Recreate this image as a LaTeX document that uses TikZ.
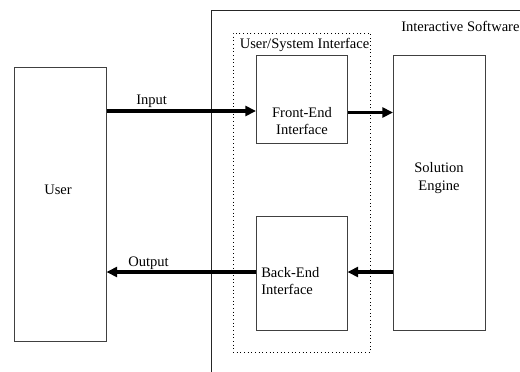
\documentclass[tikz,border=0pt]{standalone}
\usepackage{fontspec}
\setmainfont{Liberation Serif}
\usetikzlibrary{arrows.meta}
\begin{document}
\begin{tikzpicture}[x=0.75pt,y=-0.75pt,
  box/.style={draw=black!75,line width=0.75pt,inner sep=0pt,outer sep=0pt,anchor=north west},
  flow/.style={line width=2.3pt,-{Triangle[length=8pt,width=7.5pt]}},
  lbl/.style={font=\fontsize{10.9pt}{13pt}\selectfont,inner sep=0pt}]
\useasboundingbox (0,0) rectangle (520,371);
% Interactive Software boundary (clipped at right and bottom)
\draw[line width=0.7pt,black!85] (211,372) -- (211,10) -- (522,10);
\node[lbl,anchor=base west] (swl) at (401,31) {Interactive Software};
% dotted User/System Interface box
\node[box,draw=black,dotted,minimum width=137.5*0.75pt,minimum height=319*0.75pt] (usibox) at (233,33) {};
\node[lbl,anchor=base west] (usi) at (239.5,48.5) {User/System Interface};
% boxes
\node[box,minimum width=92*0.75pt,minimum height=274*0.75pt] (user) at (14.5,67.5) {};
\node[lbl] (usert) at (58,190) {User};
\node[box,minimum width=91.5*0.75pt,minimum height=88*0.75pt] (fe) at (256,55) {};
\node[lbl,align=center] (fet) at (302,121) {Front-End\\Interface};
\node[box,minimum width=91.5*0.75pt,minimum height=114*0.75pt] (be) at (256,216) {};
\node[lbl,align=left,anchor=west] (bet) at (261,281) {Back-End\\Interface};
\node[box,minimum width=92*0.75pt,minimum height=274.5*0.75pt] (se) at (393,55.5) {};
\node[lbl,align=center] (set) at (439,178) {Solution\\Engine};
% connector end points on the box sides
\coordinate (userE1) at (user.east |- 0,111);
\coordinate (userE2) at (user.east |- 0,272);
\coordinate (feW) at (fe.west |- 0,111);
\coordinate (feE) at (fe.east |- 0,112.5);
\coordinate (seW1) at (se.west |- 0,112.5);
\coordinate (seW2) at (se.west |- 0,272);
\coordinate (beE) at (be.east |- 0,272);
\coordinate (beW) at (be.west |- 0,272);
% arrows
\draw[flow] (userE1) -- (feW);
\node[lbl,anchor=base west] (inl) at (136,104) {Input};
\draw[flow] (feE) -- (seW1);
\draw[flow] (seW2) -- (beE);
\draw[flow] (beW) -- (userE2);
\node[lbl,anchor=base west] (outl) at (128,266) {Output};
\end{tikzpicture}
\end{document}
